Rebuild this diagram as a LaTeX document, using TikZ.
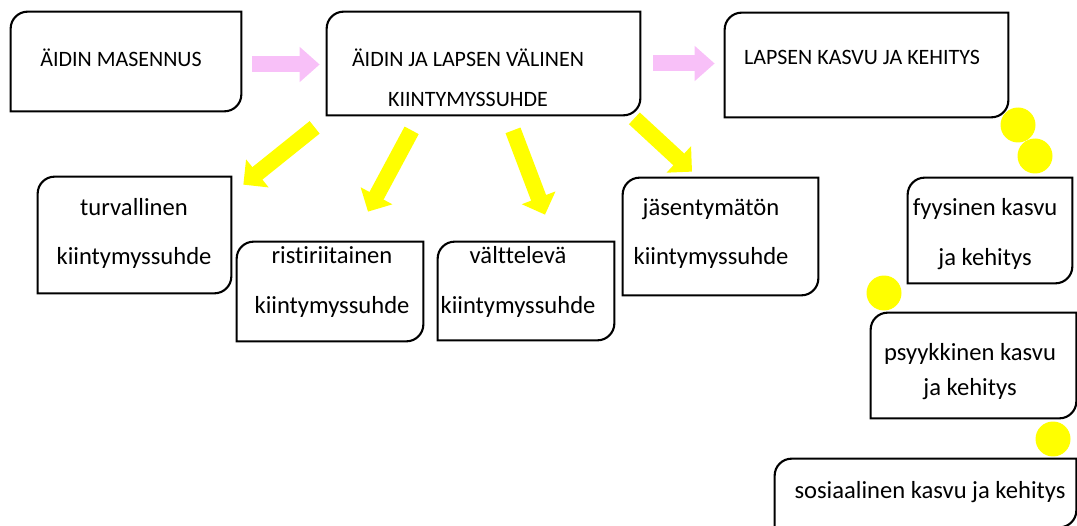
\documentclass[tikz,border=0pt]{standalone}
\usepackage{fontspec}
\setmainfont{Carlito}[Ligatures=NoCommon]
\usetikzlibrary{arrows.meta}
\definecolor{vaaleanpunainen}{RGB}{248,192,248}
\definecolor{keltainen}{RGB}{255,255,0}
\newcommand{\px}{0.02cm}
\tikzset{
    laatikko/.style={inner sep=0pt},
    reuna/.style={line width=1.2pt, black},
    iso/.style={font=\fontsize{12.5}{15}\selectfont, align=center},
    pieni/.style={font=\fontsize{14}{17}\selectfont, align=center},
    pinkkinuoli/.style={vaaleanpunainen, line width=0.32cm, -{Triangle[length=0.4cm, width=0.68cm]}},
    keltanuoli/.style={keltainen, line width=0.32cm, -{Triangle[length=0.36cm, width=0.7cm]}},
    pallo/.style={circle, fill=keltainen, minimum size=0.7cm, inner sep=0pt}
}
\begin{document}
\begin{tikzpicture}[x=0.02cm, y=-0.02cm]
        \useasboundingbox (0,0) rectangle (1077,526);
        % Laatikot
        \node[laatikko, minimum width=230*\px, minimum height=99*\px] (masennus) at (126,61.5) {};
        \node[laatikko, minimum width=313*\px, minimum height=103*\px] (suhde) at (483.5,63.5) {};
        \node[laatikko, minimum width=283*\px, minimum height=104*\px] (kasvu) at (866.5,65) {};
        \node[laatikko, minimum width=193*\px, minimum height=116*\px] (turva) at (134.5,235) {};
        \node[laatikko, minimum width=186*\px, minimum height=99*\px] (risti) at (330,291.5) {};
        \node[laatikko, minimum width=176*\px, minimum height=98*\px] (valttel) at (526,291) {};
        \node[laatikko, minimum width=195*\px, minimum height=117*\px] (jasen) at (720.5,236.5) {};
        \node[laatikko, minimum width=164*\px, minimum height=105*\px] (fyys) at (990,230.5) {};
        \node[laatikko, minimum width=205*\px, minimum height=105*\px] (psyyk) at (973.5,365.5) {};
        \node[laatikko, minimum width=301*\px, minimum height=68*\px] (sosiaal) at (925.5,493) {};
        % Reunat: pyöristys vasen ylä- ja oikea alakulma
        \foreach \n in {masennus,suhde,kasvu,turva,risti,valttel,jasen,fyys,psyyk,sosiaal}
            \draw[reuna] (\n.north) -- (\n.north east) -- (\n.east)
                {[rounded corners=0.34cm] -- (\n.south east) -- (\n.south)}
                -- (\n.south west) -- (\n.west)
                {[rounded corners=0.34cm] -- (\n.north west) -- (\n.north)};
        % Tekstit
        \node[iso] (masennus-t) at (121,58) {ÄIDIN MASENNUS};
        \node[iso] (suhde-t) at (468,77.5) {ÄIDIN JA LAPSEN VÄLINEN\\[8pt]KIINTYMYSSUHDE};
        \node[iso] (kasvu-t) at (862,57) {LAPSEN KASVU JA KEHITYS};
        \node[pieni] (turva-t) at (134,233.5) {turvallinen\\[11pt]kiintymyssuhde};
        \node[pieni] (risti-t) at (332,282) {ristiriitainen\\[11pt]kiintymyssuhde};
        \node[pieni] (valttel-t) at (518,282) {välttelevä\\[11pt]kiintymyssuhde};
        \node[pieni] (jasen-t) at (711,233.5) {jäsentymätön\\[11pt]kiintymyssuhde};
        \node[pieni] (fyys-t) at (985,234) {fyysinen kasvu\\[11pt]ja kehitys};
        \node[pieni] (psyyk-t) at (970,371.5) {psyykkinen kasvu\\[3pt]ja kehitys};
        \node[pieni] (sosiaal-t) at (930,492) {sosiaalinen kasvu ja kehitys};
        % Vaaleanpunaiset nuolet
        \draw[pinkkinuoli, shorten <=0.22cm, shorten >=0.14cm] ([yshift=-3*\px]masennus.east) -- ([yshift=-3*\px]masennus.east -| suhde.west);
        \draw[pinkkinuoli, shorten <=0.26cm, shorten >=0.2cm] (suhde.east) -- (suhde.east -| kasvu.west);
        % Keltaiset nuolet
        \draw[keltanuoli] ([shift={(-12,12)}]suhde.south west) -- ([shift={(12,8)}]turva.north east);
        \draw[keltanuoli] ([shift={(85,15)}]suhde.south west) -- ([shift={(38,-30)}]risti.north);
        \draw[keltanuoli] ([shift={(29.5,15)}]suhde.south) -- ([shift={(19,-27)}]valttel.north);
        \draw[keltanuoli] ([shift={(-6,3)}]suhde.south east) -- ([shift={(-28.5,-6)}]jasen.north);
        % Pallot
        \node[pallo] (pallo1) at (1018,125) {};
        \node[pallo] (pallo2) at (1035,156) {};
        \node[pallo] (pallo3) at (884,293) {};
        \node[pallo] (pallo4) at (1053,439) {};
    \end{tikzpicture}
\end{document}
